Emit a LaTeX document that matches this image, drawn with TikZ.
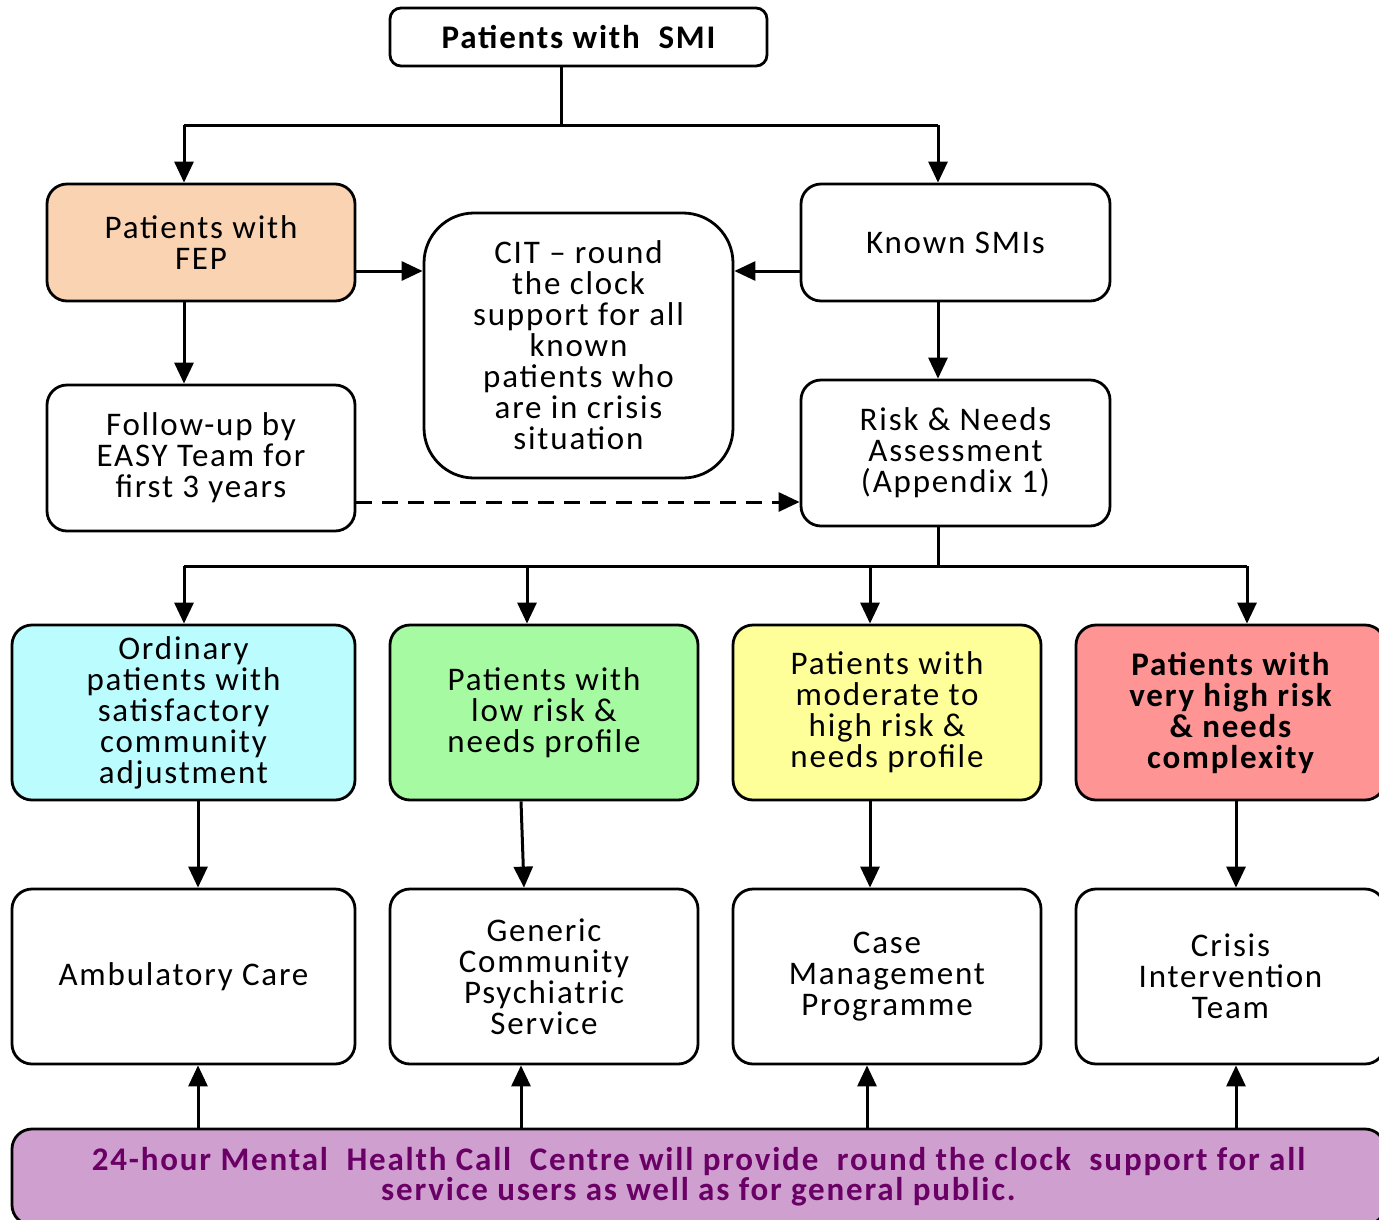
\documentclass[tikz,border=0pt]{standalone}
\usepackage{fontspec}
\setmainfont{Carlito}[LetterSpace=5.5]
\usetikzlibrary{arrows.meta,calc}
\definecolor{peach}{HTML}{FAD3B2}
\definecolor{cyanf}{HTML}{BBFCFF}
\definecolor{greenf}{HTML}{A6FBA2}
\definecolor{yellowf}{HTML}{FFFF99}
\definecolor{redf}{HTML}{FF9494}
\definecolor{barf}{HTML}{CF9FCF}
\definecolor{bartext}{HTML}{6A0066}
\tikzset{
  box/.style={draw=black, line width=2.8pt, rounded corners=20pt, align=center,
    inner sep=0pt, font=\fontsize{33}{31}\selectfont},
  arr/.style={line width=3pt, -{Triangle[length=21pt,width=19pt]}},
  ln/.style={line width=3pt},
}
\begin{document}
\begin{tikzpicture}[x=1pt,y=-1pt]
\clip (0,0) rectangle (1379,1219);
\fill[white] (0,0) rectangle (1379,1219);
% boxes
\node[box, rounded corners=11pt, minimum width=377pt, minimum height=58pt, font=\fontsize{33}{31}\selectfont\bfseries] (top) at (578.5,37) {Patients with\ \ SMI};
\node[box, fill=peach, minimum width=308pt, minimum height=117pt] (fep) at (201,242.5) {Patients with\\FEP};
\node[box, rounded corners=50pt, minimum width=309pt, minimum height=265pt] (cit) at (578.5,345.5) {CIT -- round\\the clock\\support for all\\known\\patients who\\are in crisis\\situation};
\node[box, minimum width=309pt, minimum height=117pt] (known) at (955.5,242.5) {Known SMIs};
\node[box, minimum width=308pt, minimum height=146pt] (follow) at (201,458) {Follow-up by\\EASY Team for\\first 3 years};
\node[box, minimum width=309pt, minimum height=146pt] (risk) at (955.5,453) {Risk \& Needs\\Assessment\\(Appendix 1)};
% risk rows
\node[box, fill=cyanf, minimum width=343pt, minimum height=175pt] (ord) at (183.5,712.5) {Ordinary\\patients with\\satisfactory\\community\\adjustment};
\node[box, fill=greenf, minimum width=308pt, minimum height=175pt] (low) at (544,712.5) {Patients with\\low risk \&\\needs profile};
\node[box, fill=yellowf, minimum width=308pt, minimum height=175pt] (mod) at (887,712.5) {Patients with\\moderate to\\high risk \&\\needs profile};
\node[box, fill=redf, minimum width=309pt, minimum height=175pt, font=\fontsize{33}{31}\selectfont\bfseries] (vhigh) at (1230.5,712.5) {Patients with\\very high risk\\\& needs\\complexity};
% services
\node[box, minimum width=343pt, minimum height=175pt] (amb) at (183.5,976.5) {Ambulatory Care};
\node[box, minimum width=308pt, minimum height=175pt] (gen) at (544,976.5) {Generic\\Community\\Psychiatric\\Service};
\node[box, minimum width=308pt, minimum height=175pt] (case) at (887,976.5) {Case\\Management\\Programme};
\node[box, minimum width=309pt, minimum height=175pt] (cri) at (1230.5,976.5) {Crisis\\Intervention\\Team};
% bar
\node[box, fill=barf, text=bartext, minimum width=1373pt, minimum height=96pt, font=\fontsize{33}{30}\selectfont\bfseries] (bar) at (698.5,1177) {24-hour Mental\ \ Health Call\ \ Centre will provide\ \ round the clock\ \ support for all\\service users as well as for general public.};
% coordinates
\coordinate (tj) at (561,125);
\coordinate (t1) at (184,125);
\coordinate (t2) at (938,125);
\coordinate (h1) at (0,271);
\coordinate (h2) at (0,502);
\coordinate (rj) at (938,566);
\coordinate (b1) at (184,566);
\coordinate (b2) at (527,566);
\coordinate (b3) at (870,566);
\coordinate (b4) at (1247,566);
\coordinate (v1) at (198,0);
\coordinate (v2a) at (521,0);
\coordinate (v2b) at (524,0);
\coordinate (v3) at (870,0);
\coordinate (v4) at (1236,0);
\coordinate (u2) at (521,0);
\coordinate (u3) at (867,0);
% top connectors
\draw[ln] (tj |- top.south) -- (tj);
\draw[ln] (t1) -- (t2);
\draw[arr] (t1) -- (t1 |- fep.north);
\draw[arr] (t2) -- (t2 |- known.north);
\draw[arr] (fep.east |- h1) -- (cit.west |- h1);
\draw[arr] (known.west |- h1) -- (cit.east |- h1);
\draw[arr] (t1 |- fep.south) -- (t1 |- follow.north);
\draw[arr] (t2 |- known.south) -- (t2 |- risk.north);
\draw[arr, dashed, dash pattern=on 16pt off 10pt] (follow.east |- h2) -- (risk.west |- h2);
% risk bus
\draw[ln] (rj |- risk.south) -- (rj);
\draw[ln] (b1) -- (b4);
\draw[arr] (b1) -- (b1 |- ord.north);
\draw[arr] (b2) -- (b2 |- low.north);
\draw[arr] (b3) -- (b3 |- mod.north);
\draw[arr] (b4) -- (b4 |- vhigh.north);
% rows to services
\draw[arr] (v1 |- ord.south) -- (v1 |- amb.north);
\draw[arr] (v2a |- low.south) -- (v2b |- gen.north);
\draw[arr] (v3 |- mod.south) -- (v3 |- case.north);
\draw[arr] (v4 |- vhigh.south) -- (v4 |- cri.north);
% bar up
\draw[arr] (v1 |- bar.north) -- (v1 |- amb.south);
\draw[arr] (u2 |- bar.north) -- (u2 |- gen.south);
\draw[arr] (u3 |- bar.north) -- (u3 |- case.south);
\draw[arr] (v4 |- bar.north) -- (v4 |- cri.south);
\end{tikzpicture}
\end{document}
